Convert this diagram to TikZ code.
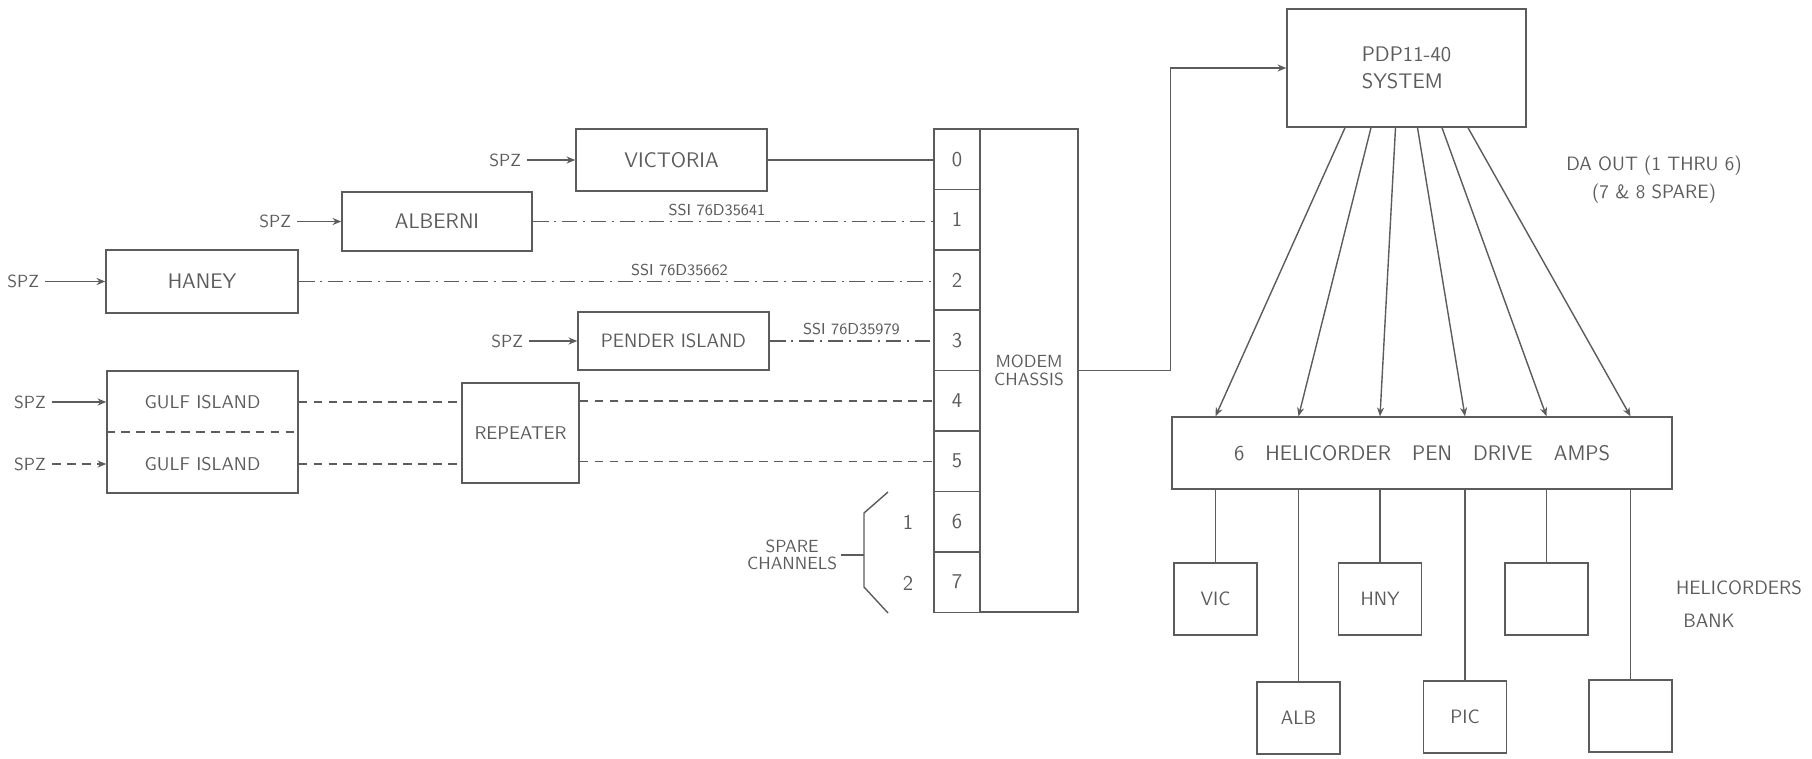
\documentclass[tikz,border=0pt]{standalone}
\usepackage{tikz}
\usetikzlibrary{arrows.meta,positioning,calc}

\definecolor{ink}{gray}{0.36}
\newcommand{\handfont}[1]{\sffamily\fontsize{#1}{#1}\selectfont}

\begin{document}
\begin{tikzpicture}[>={Stealth[length=5pt,width=4pt]},x=0.02cm,y=-0.02cm,
  every node/.style={text=ink},
  box/.style={draw=ink,line width=0.8pt,inner sep=0pt},
  stn/.style={box,font=\handfont{12}},
  cell/.style={box,minimum width=0.92cm,minimum height=1.208cm,font=\handfont{12}},
  hbox/.style={box,minimum width=1.66cm,minimum height=1.44cm,font=\handfont{11}},
  lbl/.style={font=\handfont{10}},
  ssi/.style={above,inner sep=3pt,font=\handfont{9}},
  wire/.style={draw=ink,line width=0.8pt},
  tele/.style={wire,dash pattern=on 9pt off 3pt on 1.5pt off 3pt},
  link/.style={wire,dash pattern=on 5pt off 3.5pt}]
\useasboundingbox (0,0) rectangle (1812,758);

% field stations
\node[stn,minimum width=3.82cm,minimum height=1.24cm] (vic) at (671.5,160) {VICTORIA};
\node[stn,minimum width=3.80cm,minimum height=1.18cm] (alb) at (437,221.5) {ALBERNI};
\node[stn,minimum width=3.84cm,minimum height=1.26cm] (hny) at (202,281.5) {HANEY};
\node[stn,minimum width=3.82cm,minimum height=1.16cm,font=\handfont{11}] (pen) at (673.5,341) {PENDER ISLAND};
\node[box,minimum width=3.82cm,minimum height=2.44cm] (gulf) at (202.5,432) {};
\node[lbl,font=\handfont{10.5}] (gulfA) at (202.5,402) {GULF ISLAND};
\node[lbl,font=\handfont{10.5}] (gulfB) at (202.5,464) {GULF ISLAND};
\draw[link] (gulf.west) -- (gulf.east);
\node[stn,minimum width=2.34cm,minimum height=2.0cm,font=\handfont{10.5}] (rep) at (520.5,433) {REPEATER};

% seismometer inputs
\node[lbl,left=0.96cm of vic] (spzV) {SPZ};
\node[lbl,left=0.88cm of alb] (spzA) {SPZ};
\node[lbl,left=1.2cm of hny] (spzH) {SPZ};
\node[lbl,left=0.96cm of pen] (spzP) {SPZ};
\node[lbl] (spzG1) at (30,402) {SPZ};
\node[lbl] (spzG2) at (30,464) {SPZ};
\draw[wire,->] (spzV) -- (vic);
\draw[wire,->] (spzA) -- (alb);
\draw[wire,->] (spzH) -- (hny);
\draw[wire,->] (spzP) -- (pen);
\draw[wire,->] (spzG1) -- (spzG1 -| gulf.west);
\draw[link,->] (spzG2) -- (spzG2 -| gulf.west);

% modem chassis with channel cards
\foreach \i in {0,...,7}
  \node[cell] (ch\i) at (957,{159.2+60.4*\i}) {\i};
\node[box,minimum width=1.96cm,minimum height=9.66cm,align=center,font=\handfont{10}] (modem) at (1029,370.5) {MODEM\\CHASSIS};

\draw[wire] (vic.east) -- (vic.east -| ch0.west);
\draw[tele] (alb.east) -- node[ssi,pos=.46]{SSI 76D35641} (alb.east -| ch1.west);
\draw[tele] (hny.east) -- node[ssi,pos=.6]{SSI 76D35662} (hny.east -| ch2.west);
\draw[tele] (pen.east) -- node[ssi,pos=.5]{SSI 76D35979} (pen.east -| ch3.west);
\draw[link] (gulfA -| gulf.east) -- (gulfA -| rep.west);
\draw[link] (gulfB -| gulf.east) -- (gulfB -| rep.west);
\draw[link] (ch4 -| rep.east) -- (ch4.west);
\draw[link] (ch5 -| rep.east) -- (ch5.west);

% spare channels
\draw[wire] (888,492) -- (864,513) -- (864,587) -- (888,613);
\coordinate (brk) at (864,552);
\node[lbl,anchor=east,align=center,inner sep=2pt] (spare) at (841,555) {SPARE\\CHANNELS};
\draw[wire] (spare.east) -- (spare.east -| brk);
\node[lbl,font=\handfont{12}] (sp1) at (908,522) {1};
\node[lbl,font=\handfont{12}] (sp2) at (908,583) {2};

% computer and helicorders
\node[stn,minimum width=4.78cm,minimum height=2.36cm,align=left] (pdp) at (1406.5,68) {PDP11-40\\[3pt]SYSTEM};
\draw[wire,->] (modem.east) -- ++(92,0) |- (pdp.west);

\node[stn,minimum width=10cm,minimum height=1.44cm] (amps) at (1422,453)
  {6\quad HELICORDER\quad PEN\quad DRIVE\quad AMPS};
\node[hbox] (hVIC) at (1215.5,599) {VIC};
\node[hbox] (hHNY) at (1380,599) {HNY};
\node[hbox] (hB1) at (1546.5,599) {};
\node[hbox] (hALB) at (1298.5,718) {ALB};
\node[hbox] (hPIC) at (1465,717) {PIC};
\node[hbox] (hB2) at (1630.5,716) {};

\foreach \d/\h in {-1.23/hVIC,-0.71/hALB,-0.22/hHNY,0.22/hPIC,0.71/hB1,1.23/hB2}
  \draw[wire,->] ([xshift=\d cm]pdp.south) -- (\h.north |- amps.north);
\foreach \h in {hVIC,hALB,hHNY,hPIC,hB1,hB2}
  \draw[wire] (\h.north |- amps.south) -- (\h.north);

\node[lbl,align=center,font=\handfont{11}] (daout) at (1654,180) {DA OUT (1 THRU 6)\\[4pt](7 \& 8 SPARE)};
\node[lbl,font=\handfont{11}] (helis) at (1739,588) {HELICORDERS};
\node[lbl,font=\handfont{11}] (bank) at (1709,621) {BANK};
\end{tikzpicture}
\end{document}
